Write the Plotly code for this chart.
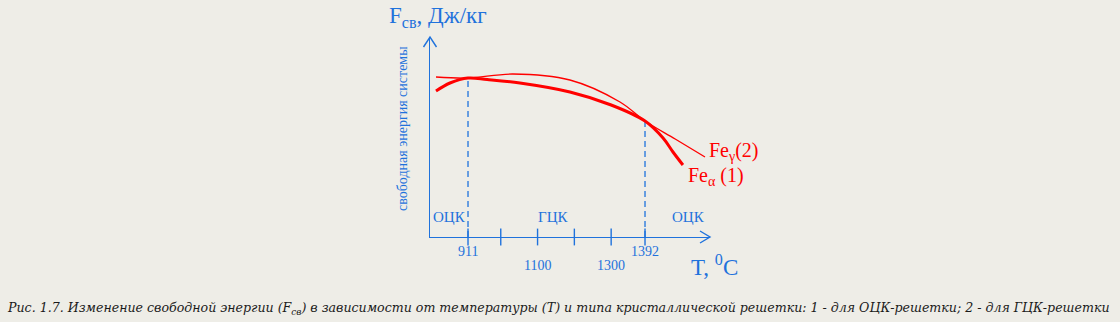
import plotly.graph_objects as go

# Temperature (°C) and free energy (arbitrary units) of the two iron phases
t_alpha = [824, 862, 911, 963, 1052, 1188, 1300, 1392, 1441, 1468, 1495]
f_alpha = [146, 154, 159, 157.5, 154, 145, 132, 116, 99, 85, 72]

t_gamma = [824, 911, 1033, 1188, 1324, 1392, 1474, 1555]
f_gamma = [160, 159, 163, 157, 135, 116, 98, 80]

# Transformation points
t_trans = [911, 1392]
f_trans = [159, 116]

# Axis ticks
tick_vals = [911, 1000, 1100, 1200, 1300, 1392]
tick_text = ["911", "", "1100", "", "1300", "1392"]

# Lattice type regions
region_names = ["ОЦК", "ГЦК", "ОЦК"]

BLUE = "#1F72DC"
RED = "#FF0000"
BG = "#EEEDE7"
SERIF = "Liberation Serif, Times New Roman, serif"

X0, X1 = 807.7, 1568.6
L, R, T, B = 430, 410, 37, 85
W, H = 1120, 322
PW, PH = W - L - R, H - T - B


def px(xp):
    return (xp - L) / PW


def py(yp):
    return (H - B - yp) / PH


fig = go.Figure()

# Dashed markers of the transformation temperatures
for t, f in zip(t_trans, f_trans):
    fig.add_trace(go.Scatter(x=[t, t], y=[0, f], mode="lines",
                             line=dict(color=BLUE, width=1.3, dash="6px,4px"),
                             hoverinfo="skip"))

fig.add_trace(go.Scatter(x=t_gamma, y=f_gamma, mode="lines", name="Feγ (2)",
                         line=dict(color=RED, width=1.3, shape="spline", smoothing=1.0)))
fig.add_trace(go.Scatter(x=t_alpha, y=f_alpha, mode="lines", name="Feα (1)",
                         line=dict(color=RED, width=3, shape="spline", smoothing=1.0)))

# Tick marks crossing the temperature axis
fig.add_trace(go.Scatter(x=tick_vals, y=[0] * len(tick_vals), mode="markers",
                         marker=dict(symbol="line-ns-open", size=12, color=BLUE,
                                     line=dict(color=BLUE, width=1.4)),
                         cliponaxis=False, hoverinfo="skip"))

annotations = []

# Tick labels
for v, txt in zip(tick_vals, tick_text):
    if not txt:
        continue
    yp = 251 if txt in ("911", "1392") else 265
    annotations.append(dict(x=v, xref="x", y=py(yp), yref="paper", text=txt,
                            showarrow=False, xanchor="center", yanchor="middle",
                            font=dict(family=SERIF, size=14, color=BLUE)))

# Region names
for name, xc in zip(region_names, [449, 553, 688]):
    annotations.append(dict(x=px(xc), xref="paper", y=py(217), yref="paper", text=name,
                            showarrow=False, xanchor="center", yanchor="middle",
                            font=dict(family=SERIF, size=15, color=BLUE)))

annotations += [
    dict(x=px(387), y=py(17), text="F<sub>св</sub>, Дж/кг", xanchor="left",
         font=dict(family=SERIF, size=23, color=BLUE)),
    dict(x=px(402), y=py(129), text="свободная энергия системы", textangle=-90,
         font=dict(family=SERIF, size=14, color=BLUE)),
    dict(x=px(689), y=py(265), text="T, <sup>0</sup>C", xanchor="left",
         font=dict(family=SERIF, size=23, color=BLUE)),
    dict(x=px(707), y=py(151), text="Fe<sub>γ</sub>(2)", xanchor="left",
         font=dict(family=SERIF, size=20, color=RED)),
    dict(x=px(686), y=py(176), text="Fe<sub>α</sub> (1)", xanchor="left",
         font=dict(family=SERIF, size=20, color=RED)),
    dict(x=px(5), y=py(308),
         text="<i>Рис. 1.7. Изменение свободной энергии (F<sub>св</sub>) в зависимости от "
              "температуры (T) и типа кристаллической решетки: 1 - для ОЦК-решетки; "
              "2 - для ГЦК-решетки</i>",
         xanchor="left", font=dict(family="DejaVu Serif, serif", size=12.6, color="#1A1A1A")),
]
for a in annotations:
    a.setdefault("xref", "paper")
    a.setdefault("yref", "paper")
    a.setdefault("showarrow", False)
    a.setdefault("xanchor", "center")
    a.setdefault("yanchor", "middle")

# Open arrowheads on both axes
shapes = [
    dict(type="path", xref="paper", yref="paper", xsizemode="pixel", ysizemode="pixel",
         xanchor=1, yanchor=0, path="M -10 6 L 0 0 L -10 -6",
         line=dict(color=BLUE, width=1.4)),
    dict(type="path", xref="paper", yref="paper", xsizemode="pixel", ysizemode="pixel",
         xanchor=0, yanchor=1, path="M -6.5 -10 L 0 0 L 6.5 -10",
         line=dict(color=BLUE, width=1.4)),
]

fig.update_layout(
    width=W, height=H,
    margin=dict(l=L, r=R, t=T, b=B),
    paper_bgcolor=BG, plot_bgcolor=BG,
    showlegend=False,
    annotations=annotations,
    shapes=shapes,
    xaxis=dict(range=[X0, X1], showgrid=False, zeroline=False, showticklabels=False,
               ticks="", showline=True, linecolor=BLUE, linewidth=1.4, fixedrange=True),
    yaxis=dict(range=[0, 200], showgrid=False, zeroline=False, showticklabels=False,
               ticks="", showline=True, linecolor=BLUE, linewidth=1.4, fixedrange=True),
)

fig.write_html("out.html")
